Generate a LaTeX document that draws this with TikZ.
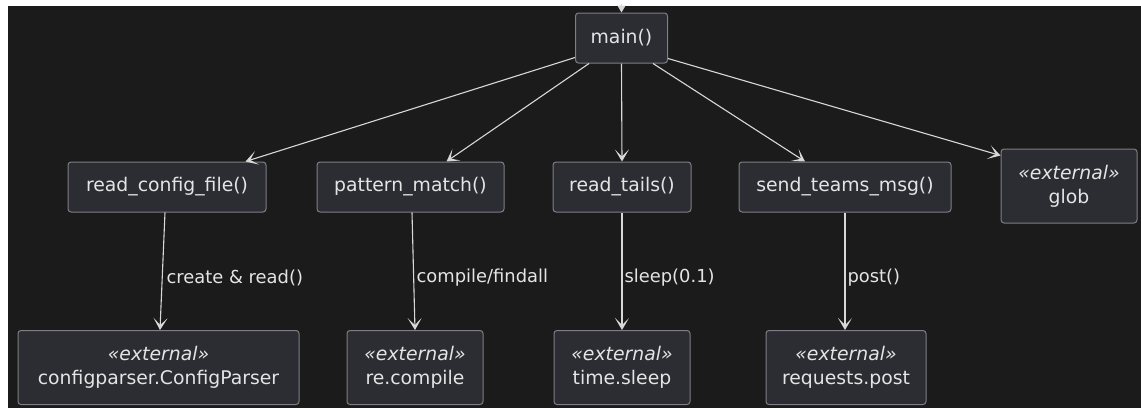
\documentclass[tikz,border=0pt]{standalone}
\usepackage{fontspec}
\setmainfont{DejaVu Sans}
\usetikzlibrary{arrows.meta,calc}

\definecolor{canvas}{HTML}{1B1B1B}
\definecolor{boxfill}{HTML}{2C2C33}
\definecolor{boxline}{HTML}{7E7E84}
\definecolor{ink}{HTML}{E4E4E4}
\definecolor{wire}{HTML}{D8D8D8}

\tikzset{
  func/.style={draw=boxline, fill=boxfill, rounded corners=3pt, line width=1pt,
    text=ink, font=\fontsize{18.8}{22}\selectfont, align=center,
    inner sep=0pt, minimum height=50pt},
  extern/.style={func, minimum height=74pt, font=\fontsize{18.8}{24}\selectfont},
  flow/.style={draw=wire, line width=1.1pt,
    -{Stealth[length=12pt, width=14pt, inset=7pt]}},
  tag/.style={text=ink, font=\fontsize{17.9}{20}\selectfont, anchor=west, inner sep=0pt}
}
\newcommand{\stereo}{{\itshape «external»}}

\begin{document}
\begin{tikzpicture}[x=1pt, y=-1pt]
  % page and canvas
  \fill[white] (0,0) rectangle (1141,408);
  \fill[canvas] (8,6) rectangle (1141,408);
  \useasboundingbox (0,0) rectangle (1141,408);

  % entry point
  \node[func, minimum width=92pt] (main) at (621.5,38) {main()};

  % functions called by main()
  \node[func, minimum width=198pt] (rcf)  at (167,187)   {read\_config\_file()};
  \node[func, minimum width=187pt] (pm)   at (410.5,187) {pattern\_match()};
  \node[func, minimum width=138pt] (rt)   at (622,187)   {read\_tails()};
  \node[func, minimum width=212pt] (stm)  at (845,187)   {send\_teams\_msg()};
  \node[extern, minimum width=136pt] (glob) at (1069,186) {\stereo\\glob};

  % external library calls
  \node[extern, minimum width=281pt] (cp) at (158.5,367.5) {\stereo\\configparser.ConfigParser};
  \node[extern, minimum width=136pt] (rc) at (415,367.5)   {\stereo\\re.compile};
  \node[extern, minimum width=136pt] (ts) at (622,367.5)   {\stereo\\time.sleep};
  \node[extern, minimum width=160pt] (rp) at (846,367.5)   {\stereo\\requests.post};

  % incoming call from above
  \coordinate (caller) at (621.5,4);
  \draw[draw=wire, line width=1.1pt, -{Triangle[length=7pt, width=8pt]}] (caller) -- (main.north);

  % main() fan-out
  \draw[flow] ($(main.south west)+(0,-6)$) -- ($(rcf.north east)+(-21,0)$);
  \draw[flow] ($(main.south west)+(14,0)$) -- ($(pm.north)+(36,0)$);
  \draw[flow] (main.south) -- (rt.north);
  \draw[flow] ($(main.south east)+(-15,0)$) -- ($(stm.north)+(-40,0)$);
  \draw[flow] ($(main.south east)+(0,-5)$) -- ($(glob.north west)+(0,7)$);

  % calls into libraries
  \draw[flow] ($(rcf.south)+(-2,0)$) -- ($(cp.north)+(1.5,0)$)
    node[tag] at (166,278) {create \& read()};
  \draw[flow] ($(pm.south)+(1.5,0)$) -- (rc.north)
    node[tag] at (416,278) {compile/findall};
  \draw[flow] (rt.south) -- (ts.north)
    node[tag] at (624,278) {sleep(0.1)};
  \draw[flow] (stm.south) -- ($(rp.north)+(-1,0)$)
    node[tag] at (847,278) {post()};
\end{tikzpicture}
\end{document}
